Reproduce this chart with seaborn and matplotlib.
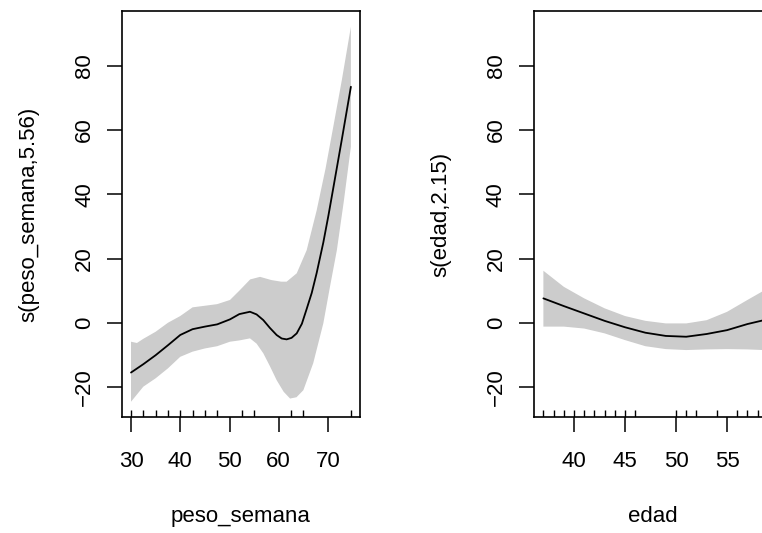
import matplotlib
matplotlib.use("Agg")
import numpy as np
import pandas as pd
import seaborn as sns
import matplotlib.pyplot as plt

# ---------------- data ----------------
peso_fit_x = [30, 32.5, 35, 37.5, 40, 42.5, 45, 47.5, 50.1, 52, 54.16, 55.5, 56.86,
              58.2, 59.58, 60.6, 61.6, 62.6, 63.65, 64.7, 65.67, 66.7, 67.7, 69.05,
              70.1, 71.08, 72.8, 74.65]
peso_fit = [-15.5, -12.9, -10.1, -7.0, -3.8, -2.0, -1.2, -0.5, 1.06, 2.7, 3.43, 2.6, 0.84,
            -1.6, -3.83, -4.9, -5.17, -4.7, -3.3, -0.3, 4.3, 9.3, 15.5, 25.0,
            33.5, 42.0, 57.0, 73.5]

peso_up_x = [30, 31.2, 32.5, 35, 37.5, 40, 42.5, 45, 47.5, 50.1, 52, 54.2, 56.2, 58.5,
             60.5, 61.6, 63.65, 65.67, 67.7, 69.5, 71.08, 72.8, 74.65]
peso_upper = [-5.9, -6.3, -5.0, -2.8, 0.0, 2.1, 4.8, 5.3, 5.8, 7.1, 10.0, 13.5, 14.3, 13.3,
              12.8, 12.8, 15.4, 22.6, 35.0, 48.0, 61.1, 75.5, 92.2]

peso_lo_x = [30, 32.5, 35, 37.5, 40, 42.5, 45, 47.5, 50.1, 52, 54.16, 55.5, 56.86, 58.2,
             59.58, 61, 62.3, 63.6, 65.0, 67.0, 69.05, 70.4, 71.8, 73.2, 74.65]
peso_lower = [-24.6, -19.9, -17.3, -14.2, -10.6, -9.0, -8.0, -7.3, -5.9, -5.5, -4.86, -6.5,
              -9.5, -13.5, -17.9, -21.5, -23.6, -23.2, -21.0, -12.6, -0.2, 11.2, 22.6,
              37.7, 54.8]

peso_rug = [30, 32.5, 35, 37.5, 40, 42.5, 45, 47.5, 52.5, 55, 62.5, 65, 74.7]

edad_x = [37, 39, 41, 43, 45, 47, 49, 51, 53, 55, 57, 58.6]
edad_fit = [7.6, 5.2, 2.9, 0.6, -1.4, -3.1, -4.1, -4.35, -3.5, -2.3, -0.4, 0.8]
edad_upper = [16.2, 11.2, 7.6, 4.5, 2.1, 0.6, -0.2, -0.2, 0.8, 3.4, 7.1, 10.0]
edad_lower = [-1.2, -1.2, -1.8, -3.3, -5.4, -7.3, -8.2, -8.5, -8.3, -8.2, -8.3, -8.5]
edad_rug = [37, 38, 39, 40, 41, 42, 43, 44, 45, 46, 50, 51, 52, 54, 56, 57, 58]

peso_ticks = [30, 40, 50, 60, 70]
edad_ticks = [40, 45, 50, 55]
y_ticks = [-20, 0, 20, 40, 60, 80]
y_ticklabels = ["\u221220", "0", "20", "40", "60", "80"]

# ---------------- style ----------------
sns.set_theme(style="white")
plt.rcParams['font.family'] = ['Liberation Sans', 'DejaVu Sans']

W, H = 762, 533
fig = plt.figure(figsize=(W / 100, H / 100), dpi=100)
fig.patch.set_facecolor("white")


def px_axes(l, t, r, b):
    return fig.add_axes([l / W, 1 - b / H, (r - l) / W, (b - t) / H])


ax1 = px_axes(122, 11, 360, 417)
ax2 = px_axes(533.7, 11, 771.7, 417)

FS = 16


def panel(ax, fx, fit, ux, up, lx, lo, rug, xlim, xticks, xlabel, ylabel):
    ax.set_facecolor("white")
    band_x = list(ux) + list(lx)[::-1]
    band_y = list(up) + list(lo)[::-1]
    ax.fill(band_x, band_y, color="#cccccc", lw=0, zorder=1)
    sns.lineplot(x=fx, y=fit, ax=ax, color="black", lw=1.3, zorder=3,
                 estimator=None, sort=False)
    sns.rugplot(x=rug, ax=ax, height=0.018, color="black", lw=0.8)
    ax.set_xlim(*xlim)
    ax.set_ylim(-29.35, 97.1)
    ax.set_xticks(xticks)
    ax.set_xticklabels([str(t) for t in xticks])
    ax.set_yticks(y_ticks)
    ax.set_yticklabels(y_ticklabels)
    for s in ax.spines.values():
        s.set_visible(True)
        s.set_color("black")
        s.set_linewidth(1.2)
    ax.tick_params(axis="both", direction="out", length=10.8, width=1.1,
                   color="black", labelsize=FS, labelcolor="black",
                   bottom=True, left=True, top=False, right=False)
    ax.tick_params(axis="x", pad=13.5)
    ax.tick_params(axis="y", pad=8.5)
    for lbl in ax.get_yticklabels():
        lbl.set_rotation(90)
        lbl.set_va("center")
    ax.set_xlabel(xlabel, fontsize=FS, color="black", labelpad=25)
    ax.set_ylabel(ylabel, fontsize=FS, color="black", labelpad=25)


panel(ax1, peso_fit_x, peso_fit, peso_up_x, peso_upper, peso_lo_x, peso_lower,
      peso_rug, (28.17, 76.5), peso_ticks, "peso_semana", "s(peso_semana,5.56)")
panel(ax2, edad_x, edad_fit, edad_x, edad_upper, edad_x, edad_lower,
      edad_rug, (36.05, 59.38), edad_ticks, "edad", "s(edad,2.15)")

fig.savefig("out.png", dpi=100)
